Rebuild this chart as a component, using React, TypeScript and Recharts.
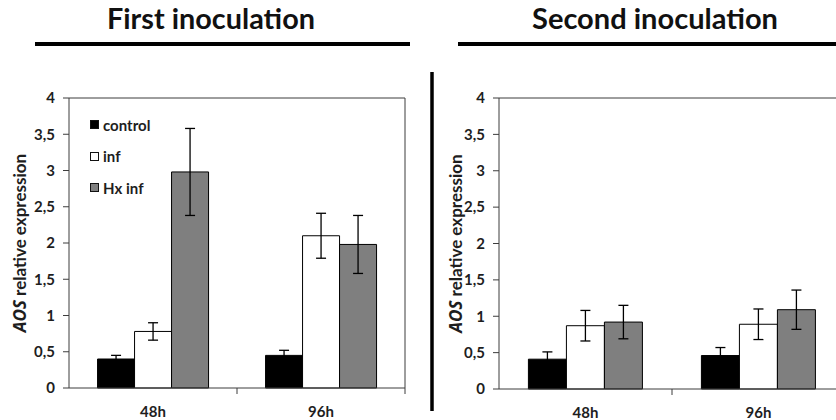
import { BarChart, Bar, XAxis, YAxis, ErrorBar, Legend, ReferenceLine } from 'recharts';

const FONT = 'Lato, "Open Sans", sans-serif';
const INK = '#1e1e1e';
const AXIS = '#3c3c3c';

const TIMES = ['48h', '96h'];
const Y_TICKS = [0, 0.5, 1, 1.5, 2, 2.5, 3, 3.5, 4];
const SERIES_ORDER = ['control', 'inf', 'Hx inf'];

// First inoculation: means and error
const FIRST_CONTROL = [0.40, 0.45];
const FIRST_CONTROL_ERR = [0.05, 0.07];
const FIRST_INF = [0.78, 2.10];
const FIRST_INF_ERR = [0.12, 0.31];
const FIRST_HX = [2.98, 1.98];
const FIRST_HX_ERR = [0.60, 0.40];

// Second inoculation: means and error
const SECOND_CONTROL = [0.41, 0.46];
const SECOND_CONTROL_ERR = [0.10, 0.11];
const SECOND_INF = [0.87, 0.89];
const SECOND_INF_ERR = [0.21, 0.21];
const SECOND_HX = [0.92, 1.09];
const SECOND_HX_ERR = [0.23, 0.27];

const buildRows = (ctrl: number[], ctrlErr: number[], inf: number[], infErr: number[], hx: number[], hxErr: number[]) =>
    TIMES.map((time, i) => ({
        time,
        control: ctrl[i], controlErr: ctrlErr[i],
        inf: inf[i], infErr: infErr[i],
        hx: hx[i], hxErr: hxErr[i],
    }));

const firstRows = buildRows(FIRST_CONTROL, FIRST_CONTROL_ERR, FIRST_INF, FIRST_INF_ERR, FIRST_HX, FIRST_HX_ERR);
const secondRows = buildRows(SECOND_CONTROL, SECOND_CONTROL_ERR, SECOND_INF, SECOND_INF_ERR, SECOND_HX, SECOND_HX_ERR);

const decimalComma = (v: number) => String(v).replace('.', ',');

// category label centred, with a tick mark on the right edge of each band
function CategoryTick({ x = 0, y = 0, payload, plotWidth = 0, count = 0 }: any) {
    const step = plotWidth && count ? plotWidth / count : 0;
    return (
        <g>
            {step > 0 && (
                <line x1={x + step / 2} x2={x + step / 2} y1={y - 18} y2={y - 12} stroke={AXIS} strokeWidth={1} />
            )}
            <text x={x} y={y} dy="0.71em" textAnchor="middle" fontFamily={FONT} fontWeight={700} fontSize={15} fill={INK}>
                {payload?.value}
            </text>
        </g>
    );
}

function YTitle({ viewBox, dx }: any) {
    if (!viewBox) return null;
    const cx = viewBox.x + dx;
    const cy = viewBox.y + viewBox.height / 2;
    return (
        <text
            x={cx}
            y={cy}
            transform={`rotate(-90 ${cx} ${cy})`}
            textAnchor="middle"
            dominantBaseline="central"
            fontFamily={FONT}
            fontWeight={700}
            fontSize={17}
            fill={INK}
        >
            <tspan fontFamily='"Open Sans", "DejaVu Sans", sans-serif' fontStyle="italic">AOS</tspan> relative expression
        </text>
    );
}

const LegendBox = ({ payload }: any) => {
    const items = [...(payload || [])].sort(
        (a: any, b: any) => SERIES_ORDER.indexOf(a.value) - SERIES_ORDER.indexOf(b.value)
    );
    return (
        <div style={{ fontFamily: FONT, fontWeight: 700, fontSize: 15, color: INK }}>
            {items.map((p: any) => (
                <div key={p.value} style={{ display: 'flex', alignItems: 'center', height: 31.5 }}>
                    <span style={{ width: 7, height: 7, background: p.color, border: '1px solid #111', marginRight: 4 }} />
                    {p.value}
                </div>
            ))}
        </div>
    );
};

function Panel({ rows, width, yWidth, xHeight, titleDx, legend }: any) {
    const margin = { top: 98, right: 15, bottom: 0, left: 0 };
    const plotWidth = width - margin.left - margin.right - yWidth;
    return (
        <BarChart
            width={width}
            height={420}
            data={rows}
            margin={margin}
            barCategoryGap="17%"
            barGap={0}
        >
            <XAxis
                dataKey="time"
                height={xHeight}
                stroke={AXIS}
                tickSize={6}
                tickMargin={12}
                tickLine={false}
                tick={<CategoryTick plotWidth={plotWidth} count={rows.length} />}
            />
            <YAxis
                domain={[0, 4]}
                ticks={Y_TICKS}
                width={yWidth}
                stroke={AXIS}
                tickSize={6}
                tickMargin={8}
                tickFormatter={decimalComma}
                tick={{ fontFamily: FONT, fontWeight: 700, fontSize: 15, fill: INK }}
                label={{ content: (p: any) => <YTitle {...p} dx={titleDx} /> }}
            />
            {/* plot frame: top and right edges */}
            <ReferenceLine y={4} stroke={AXIS} strokeWidth={1} ifOverflow="visible" />
            <ReferenceLine x={TIMES[TIMES.length - 1]} position="end" stroke={AXIS} strokeWidth={1} ifOverflow="visible" />
            {legend && (
                <Legend
                    layout="vertical"
                    align="center"
                    verticalAlign="middle"
                    wrapperStyle={{ left: 90, top: 109, width: 'auto' }}
                    content={<LegendBox />}
                />
            )}
            <Bar dataKey="control" name="control" fill="#000000" stroke="#000000" strokeWidth={1} isAnimationActive={false}>
                <ErrorBar dataKey="controlErr" width={5} stroke="#000" strokeWidth={1.3} />
            </Bar>
            <Bar dataKey="inf" name="inf" fill="#ffffff" stroke="#000000" strokeWidth={1} isAnimationActive={false}>
                <ErrorBar dataKey="infErr" width={5} stroke="#000" strokeWidth={1.3} />
            </Bar>
            <Bar dataKey="hx" name="Hx inf" fill="#7f7f7f" stroke="#000000" strokeWidth={1} isAnimationActive={false}>
                <ErrorBar dataKey="hxErr" width={5} stroke="#000" strokeWidth={1.3} />
            </Bar>
        </BarChart>
    );
}

export default function App() {
    return (
        <div style={{ position: 'absolute', left: 0, top: 0, width: 836, height: 420, overflow: 'hidden', background: '#fff' }}>
            <div style={{ position: 'absolute', left: 0, top: 0 }}>
                <Panel rows={firstRows} width={420} yWidth={69} xHeight={32} titleDx={19} legend />
            </div>
            <div style={{ position: 'absolute', left: 420, top: 0 }}>
                <Panel rows={secondRows} width={440} yWidth={79} xHeight={31} titleDx={35} legend={false} />
            </div>
            {/* panel headings, underlines and the divider */}
            <svg width={836} height={420} style={{ position: 'absolute', left: 0, top: 0, pointerEvents: 'none' }}>
                <text x={211} y={29} textAnchor="middle" fontFamily={FONT} fontWeight={700} fontSize={28} fill="#111"
                    textLength={208} lengthAdjust="spacingAndGlyphs">First inoculation</text>
                <text x={655} y={29} textAnchor="middle" fontFamily={FONT} fontWeight={700} fontSize={28} fill="#111"
                    textLength={246} lengthAdjust="spacingAndGlyphs">Second inoculation</text>
                <line x1={35} x2={410} y1={44} y2={44} stroke="#000" strokeWidth={4} />
                <line x1={458} x2={836} y1={44} y2={44} stroke="#000" strokeWidth={4} />
                <line x1={432} x2={432} y1={72} y2={411} stroke="#000" strokeWidth={3.5} />
            </svg>
        </div>
    );
}
